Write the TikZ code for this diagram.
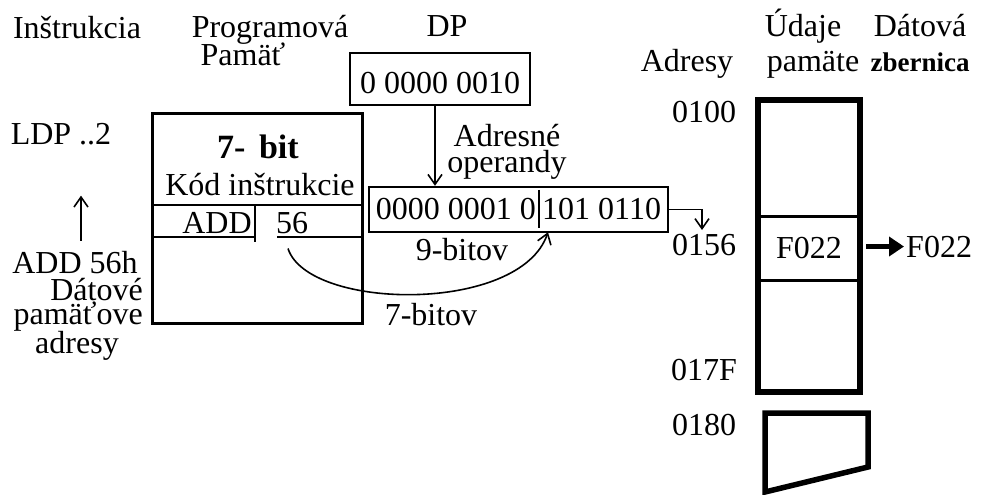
\documentclass[tikz,border=0pt]{standalone}
\usepackage{fontspec}
\setmainfont{Liberation Serif}
\usepackage{tikz}
\usetikzlibrary{positioning,fit,arrows.meta}

\begin{document}
\begin{tikzpicture}[x=1pt,y=-1pt,
		every node/.style={inner sep=0pt,font=\fontsize{32}{35}\selectfont},
		txt/.style={anchor=base},
		tenka/.style={line width=1.6pt},
		ramcek/.style={draw,line width=2pt},
		hruba/.style={line width=5pt,-{Triangle[length=15pt,width=19pt]}},
		>={Straight Barb[length=10pt,width=14pt]}]
		\useasboundingbox (0,0) rectangle (985,495);
		%hlavicky
		\node[txt] (instr) at (77,39) {Inštrukcia};
		\node[txt] (prog1) at (270,38) {Programová};
		\node[txt] (prog2) at (243,66) {Pamäť};
		\node[txt] (dphl) at (447,37) {DP};
		\node[txt] (adrhl) at (687,72) {Adresy};
		\node[txt] (ud1) at (803,37) {Údaje};
		\node[txt] (ud2) at (813,72) {pamäte};
		\node[txt] (zb1) at (920,37) {Dátová};
		\node[txt,font=\fontsize{27}{30}\selectfont\bfseries] (zb2) at (920,72) {zbernica};
		%instrukcia vlavo
		\node[txt] (ldp) at (61,144) {LDP ..2};
		\node[txt] (add) at (75,273) {ADD 56h};
		\node[anchor=south east,align=right,font=\fontsize{32}{24}\selectfont] (dat) at (143,332) {Dátové\\pamäťove};
		\node[txt] (dat3) at (77,353) {adresy};
		\draw[tenka,->,shorten >=51pt] ([xshift=6pt,yshift=10pt]add.north) -- ([xshift=20pt]ldp.south);
		%programova pamat
		\draw[line width=3pt] (152,113) rectangle (362,323);
		\node[txt,font=\fontsize{34}{36}\selectfont\bfseries] (bit7) at (258,158) {7-\hspace{0.4em}bit};
		\node[txt] (kod) at (260,195) {Kód inštrukcie};
		\draw[tenka] (152,205) -- (362,205);
		\node[txt] (nadd) at (217,233) {ADD};
		\node[txt] (n56) at (292,233) {56};
		\draw[tenka] (152,237) -- (255,237) (255,205) -- (255,242);
		\draw[tenka] (277,237) -- (362,237);
		%register DP
		\node[ramcek,minimum width=180pt,text height=30pt,minimum height=52pt] (dp) at (440,79) {0 0000 0010};
		%adresa operandu
		\node[anchor=east,inner xsep=3pt,minimum height=45pt] (opl) at (539,209.5) {0000 0001 0};
		\node[right=0pt of opl,inner xsep=3pt,minimum height=45pt] (opr) {101 0110};
		\node[ramcek,fit=(opl)(opr),inner xsep=4pt,inner ysep=0pt] (opnd) {};
		\draw[line width=1.2pt] ([yshift=-3pt]opl.north east) -- ([yshift=4pt]opl.south east);
		\node[align=center,font=\fontsize{32}{26}\selectfont] (adr) at (507,152) {Adresné\\operandy};
		\node[txt] (b9) at (462,260) {9-bitov};
		\node[txt] (b7) at (431,325) {7-bitov};
		\draw[tenka,->] ([xshift=-5pt]dp.south) -- ([xshift=-5pt]dp.south |- opnd.north);
		\draw[tenka,->] ([xshift=-4pt,yshift=-15pt]n56.south) .. controls +(20,62) and +(-28,82) .. ([xshift=9pt]opr.south west);
		\coordinate (k156) at (702,230);
		\draw[tenka,->] (opnd.east) -| (k156);
		%adresy
		\node[txt] (a100) at (704,122) {0100};
		\node[txt] (a156) at (704,255) {0156};
		\node[txt] (a17f) at (704,380) {017F};
		\node[txt] (a180) at (704,435) {0180};
		%udajova pamat
		\draw[line width=6pt] (758,100) rectangle (860,392);
		\node[minimum width=102pt,minimum height=63pt] (bunka) at (809,248.5) {F022};
		\draw[line width=3pt] (bunka.north west) -- (bunka.north east) (bunka.south west) -- (bunka.south east);
		\node[anchor=base west] (fz) at (906,257) {F022};
		\draw[hruba] ([xshift=6pt]bunka.east |- fz.west) -- ([xshift=-2pt]fz.west);
		\draw[line width=5.5pt] (765,413) -- (868,413) -- (868,467) -- (765,492) -- cycle;
	\end{tikzpicture}
\end{document}
